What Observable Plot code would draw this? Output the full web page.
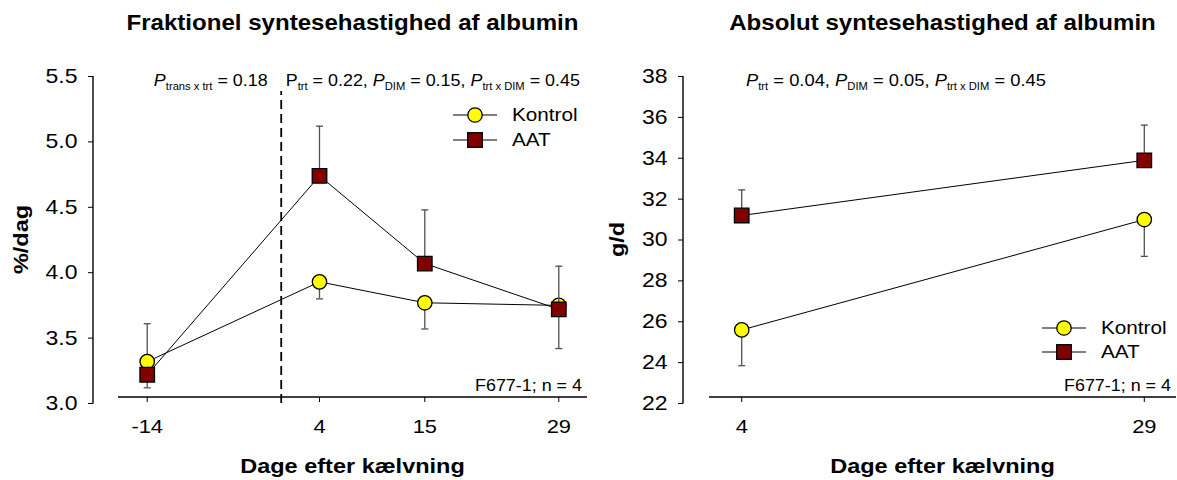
<!DOCTYPE html>
<html>
<head>
<meta charset="utf-8">
<script src="https://cdn.jsdelivr.net/npm/d3@7"></script>
<script src="https://cdn.jsdelivr.net/npm/@observablehq/plot@0.6"></script>
<style>
  html, body { margin: 0; padding: 0; background: #fff; }
  #charts { display: flex; width: 1177px; height: 480px; }
  #charts svg text { white-space: pre; }
</style>
</head>
<body>
<div id="charts"></div>
<script>
// ---- Data -------------------------------------------------------------
const groups = ["Kontrol", "AAT"];

// Fractional synthesis rate of albumin (%/day)
const fracDays = [-14, 4, 15, 29];
const fracKontrol = [3.32, 3.93, 3.77, 3.75];
const fracKontrolSE = [0.29, 0.13, 0.20, 0.33];
const fracKontrolBarSide = [1, -1, -1, -1];
const fracAAT = [3.22, 4.74, 4.07, 3.72];
const fracAATSE = [0.10, 0.38, 0.41, 0.33];
const fracAATBarSide = [-1, 1, 1, 1];
const fracYTicks = [3.0, 3.5, 4.0, 4.5, 5.0, 5.5];
const fracTitle = "Fraktionel syntesehastighed af albumin";
const fracYLabel = "%/dag";
const fracPBefore = [["P", "i"], ["trans x trt", "sub"], [" = 0.18"]];
const fracPAfter = [["P"], ["trt", "sub"], [" = 0.22, "], ["P", "i"], ["DIM", "sub"], [" = 0.15, "], ["P", "i"], ["trt x DIM", "sub"], [" = 0.45"]];
const calvingDay = 0;

// Absolute synthesis rate of albumin (g/d)
const absDays = [4, 29];
const absKontrol = [25.6, 31.0];
const absKontrolSE = [1.75, 1.8];
const absKontrolBarSide = [-1, -1];
const absAAT = [31.2, 33.9];
const absAATSE = [1.25, 1.72];
const absAATBarSide = [1, 1];
const absYTicks = [22, 24, 26, 28, 30, 32, 34, 36, 38];
const absTitle = "Absolut syntesehastighed af albumin";
const absYLabel = "g/d";
const absP = [["P", "i"], ["trt", "sub"], [" = 0.04, "], ["P", "i"], ["DIM", "sub"], [" = 0.05, "], ["P", "i"], ["trt x DIM", "sub"], [" = 0.45"]];

const xLabel = "Dage efter kælvning";
const caption = "F677-1; n = 4";

// ---- Style -------------------------------------------------------------
const FONT = "'Liberation Sans', Arial, Helvetica, sans-serif";
const KONTROL_FILL = "#FFFF00";
const AAT_FILL = "#800000";
const ERR_COLOR = "#505050";
const TEXT_STRETCH = 1.12;
const TICK_STRETCH = 1.15;

// horizontal cap drawn at the end of each error bar
const capSymbol = {
  draw(context, size) {
    const w = Math.sqrt(size / Math.PI);
    context.moveTo(-w, 0);
    context.lineTo(w, 0);
  }
};

function rows(days, values, se, side, group) {
  return days.map((day, i) => ({
    day, group, value: values[i], end: values[i] + side[i] * se[i]
  }));
}

// writes a run of text pieces (italic / subscript) into an SVG text node
function richText(sel, pieces) {
  let shifted = false;
  for (const [t, kind] of pieces) {
    const ts = sel.append("tspan").text(t);
    if (kind === "i") ts.attr("font-style", "italic");
    if (kind === "sub") {
      ts.attr("font-size", 10).attr("dy", shifted ? 0 : 4);
      shifted = true;
    } else if (shifted) {
      ts.attr("dy", -4);
      shifted = false;
    }
  }
}

function decorations(cfg) {
  return (index, scales, values, dims) => {
    const {x, y} = scales;
    const {height, marginLeft, marginBottom} = dims;
    const g = d3.create("svg:g").attr("font-family", FONT).attr("fill", "black");
    const xr = cfg.xDomain.map(x);
    const yr = cfg.yDomain.map(y);
    const xMid = (xr[0] + xr[1]) / 2;
    const yMid = (yr[0] + yr[1]) / 2;
    const axisY = height - marginBottom;

    // axis lines
    g.append("line").attr("x1", marginLeft).attr("x2", marginLeft)
      .attr("y1", yr[0] + 0.5).attr("y2", yr[1]).attr("stroke", "black").attr("stroke-width", 1.4);
    g.append("line").attr("x1", xr[0]).attr("x2", xr[1])
      .attr("y1", axisY).attr("y2", axisY).attr("stroke", "black").attr("stroke-width", 1.4);

    // title
    g.append("text").attr("x", xMid).attr("y", 30).attr("text-anchor", "middle")
      .attr("font-size", 21.5).attr("font-weight", "bold").text(cfg.title);

    // axis titles
    g.append("text").attr("x", xMid).attr("y", 473).attr("text-anchor", "middle")
      .attr("font-size", 21).attr("font-weight", "bold").text(xLabel);
    g.append("text").attr("transform", `translate(${cfg.yLabelX},${yMid}) rotate(-90)`)
      .attr("text-anchor", "middle").attr("font-size", 21).attr("font-weight", "bold").text(cfg.yLabel);

    // p-values
    for (const p of cfg.pTexts) {
      const px = p.at === "divider" ? x(calvingDay) + p.dx : marginLeft + p.dx;
      const t = g.append("text").attr("x", px).attr("y", 86)
        .attr("text-anchor", p.anchor).attr("font-size", p.size);
      richText(t, p.pieces);
    }

    // caption
    g.append("text").attr("x", xr[1] - 5).attr("y", 391).attr("text-anchor", "end")
      .attr("font-size", 16).text(caption);

    // legend
    const [lx, ly] = cfg.legend;
    groups.forEach((name, i) => {
      const cy = ly + i * cfg.legendStep;
      g.append("line").attr("x1", lx - 22).attr("x2", lx + 22).attr("y1", cy).attr("y2", cy)
        .attr("stroke", "black").attr("stroke-width", 1);
      if (i === 0) {
        g.append("circle").attr("cx", lx).attr("cy", cy).attr("r", 7.2)
          .attr("fill", KONTROL_FILL).attr("stroke", "black").attr("stroke-width", 1.3);
      } else {
        g.append("rect").attr("x", lx - 7.3).attr("y", cy - 7.3).attr("width", 14.6).attr("height", 14.6)
          .attr("fill", AAT_FILL).attr("stroke", "black").attr("stroke-width", 1.3);
      }
      g.append("text").attr("x", lx + 37).attr("y", cy).attr("dy", "0.35em")
        .attr("text-anchor", "start").attr("font-size", 18.5).text(name);
    });
    return g.node();
  };
}

function stretchText(svg) {
  svg.querySelectorAll("text").forEach((t) => {
    const isTick = !!t.closest('g[aria-label$="tick label"]');
    const s = isTick ? TICK_STRETCH : TEXT_STRETCH;
    const x = parseFloat(t.getAttribute("x")) || 0;
    const tr = t.getAttribute("transform") || "";
    t.setAttribute("transform", `${tr} translate(${x},0) scale(${s},1) translate(${-x},0)`);
  });
}

function panel(cfg) {
  const kontrol = rows(cfg.days, cfg.kontrol, cfg.kontrolSE, cfg.kontrolSide, groups[0]);
  const aat = rows(cfg.days, cfg.aat, cfg.aatSE, cfg.aatSide, groups[1]);
  const marks = [];
  if (cfg.divider) {
    marks.push(Plot.ruleX([calvingDay], {
      y1: cfg.yDomain[0], y2: cfg.dividerTop,
      stroke: "black", strokeWidth: 1.8, strokeDasharray: "9,5"
    }));
  }
  marks.push(
    Plot.line(kontrol, {x: "day", y: "value", stroke: "black", strokeWidth: 1}),
    Plot.line(aat, {x: "day", y: "value", stroke: "black", strokeWidth: 1}),
    Plot.ruleX(kontrol, {x: "day", y1: "value", y2: "end", stroke: ERR_COLOR, strokeWidth: 1.3}),
    Plot.dot(kontrol, {x: "day", y: "end", symbol: capSymbol, r: 3.5, fill: "none", stroke: ERR_COLOR, strokeWidth: 1.3}),
    Plot.dot(kontrol, {x: "day", y: "value", r: 7.2, fill: KONTROL_FILL, stroke: "black", strokeWidth: 1.3}),
    Plot.ruleX(aat, {x: "day", y1: "value", y2: "end", stroke: ERR_COLOR, strokeWidth: 1.3}),
    Plot.dot(aat, {x: "day", y: "end", symbol: capSymbol, r: 3.5, fill: "none", stroke: ERR_COLOR, strokeWidth: 1.3}),
    Plot.dot(aat, {x: "day", y: "value", symbol: "square", r: 8.2, fill: AAT_FILL, stroke: "black", strokeWidth: 1.3}),
    Plot.axisX({ticks: cfg.days, tickFormat: (d) => String(d), tickSize: 5, tickPadding: 17, fontSize: 19, label: null}),
    Plot.axisY({ticks: cfg.yTicks, tickFormat: cfg.yFormat, tickSize: 5, tickPadding: 11, fontSize: 20, label: null}),
    decorations(cfg)
  );
  const svg = Plot.plot({
    width: cfg.width,
    height: 480,
    marginLeft: 93,
    marginRight: cfg.width - cfg.xRange[1],
    marginTop: 76,
    marginBottom: 83,
    x: {domain: cfg.xDomain, range: cfg.xRange},
    y: {domain: cfg.yDomain, range: [403, 76]},
    style: {fontFamily: FONT, color: "black", background: "white", overflow: "visible"},
    marks
  });
  stretchText(svg);
  return svg;
}

const host = document.getElementById("charts");

host.append(panel({
  width: 590,
  days: fracDays,
  kontrol: fracKontrol, kontrolSE: fracKontrolSE, kontrolSide: fracKontrolBarSide,
  aat: fracAAT, aatSE: fracAATSE, aatSide: fracAATBarSide,
  xDomain: [-17, 32], xRange: [118, 587],
  yDomain: [3.0, 5.5], yTicks: fracYTicks, yFormat: d3.format(".1f"),
  divider: true, dividerTop: 5.385,
  title: fracTitle, yLabel: fracYLabel, yLabelX: 28,
  pTexts: [
    {at: "divider", dx: -13, anchor: "end", size: 16, pieces: fracPBefore},
    {at: "divider", dx: 5, anchor: "start", size: 16, pieces: fracPAfter}
  ],
  legend: [475, 115], legendStep: 25
}));

host.append(panel({
  width: 587,
  days: absDays,
  kontrol: absKontrol, kontrolSE: absKontrolSE, kontrolSide: absKontrolBarSide,
  aat: absAAT, aatSE: absAATSE, aatSide: absAATBarSide,
  xDomain: [2, 31], xRange: [119, 586],
  yDomain: [22, 38], yTicks: absYTicks, yFormat: d3.format("d"),
  divider: false,
  title: absTitle, yLabel: absYLabel, yLabelX: 34,
  pTexts: [
    {at: "frame", dx: 63, anchor: "start", size: 16.4, pieces: absP}
  ],
  legend: [474, 328], legendStep: 24
}));
</script>
</body>
</html>
